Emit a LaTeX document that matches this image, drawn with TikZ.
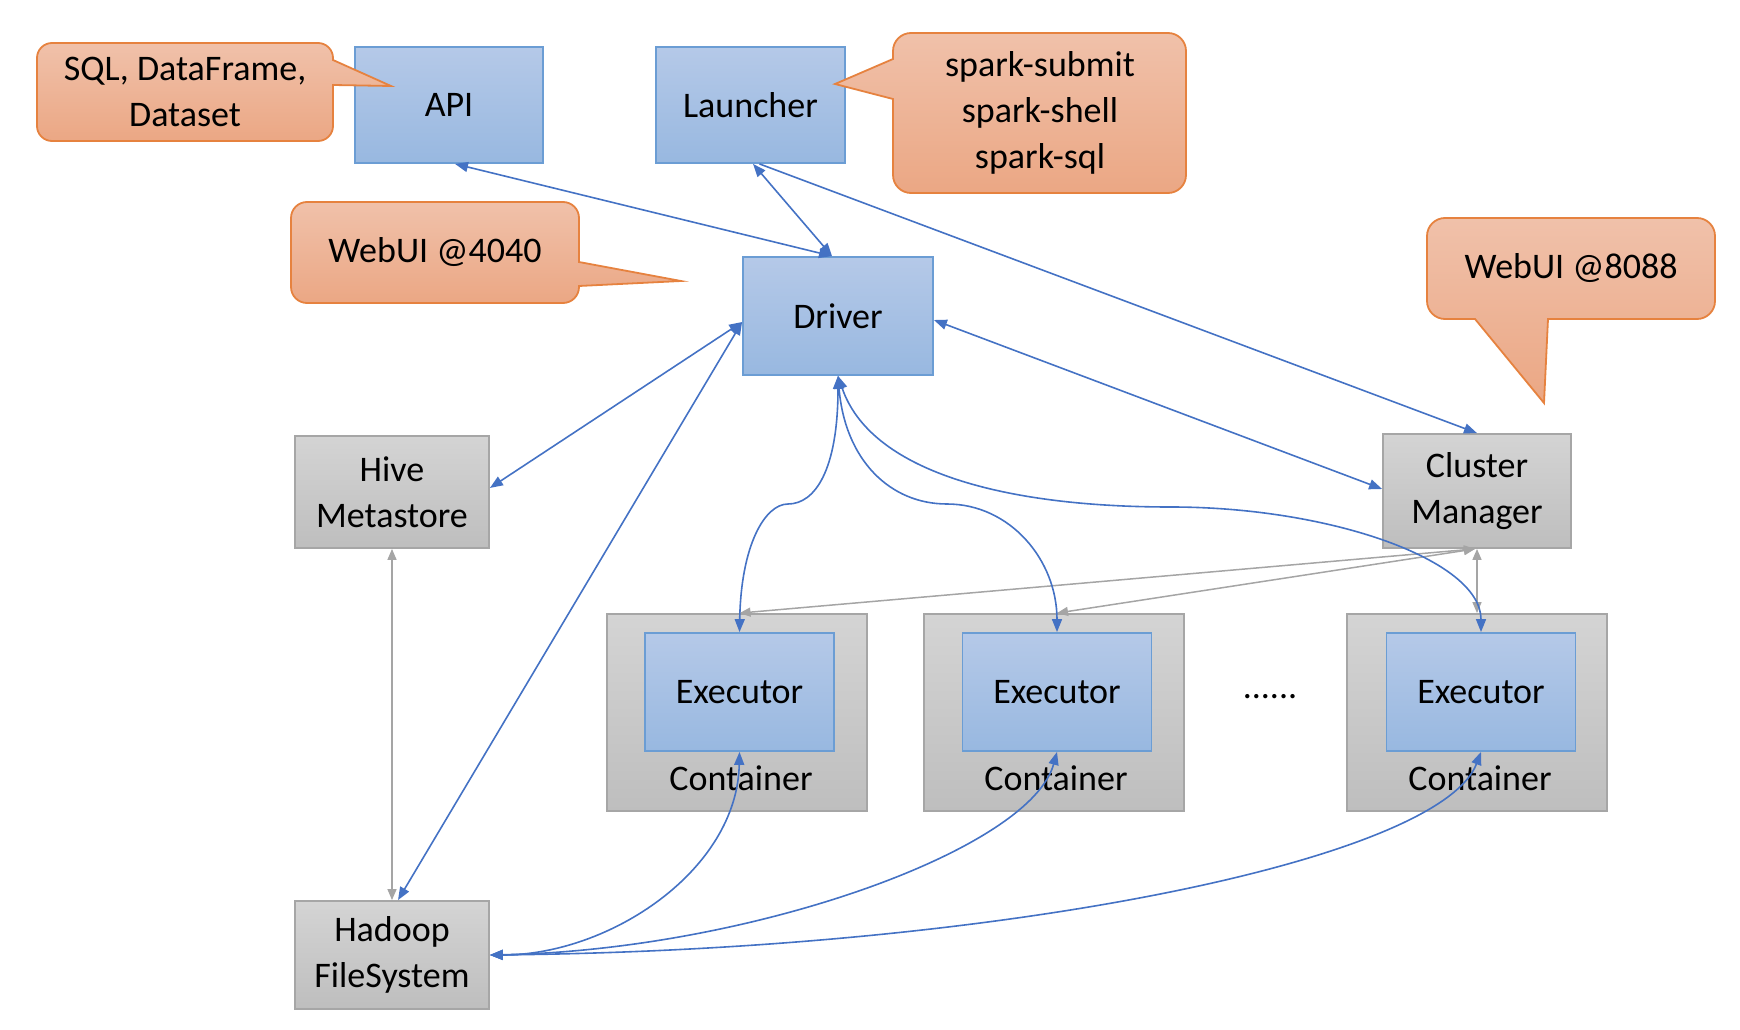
\documentclass[tikz,border=0pt]{standalone}
\usepackage{fontspec}
\setmainfont{Carlito}
\usetikzlibrary{arrows.meta,calc}
\definecolor{bluetop}{HTML}{B5C9E8}
\definecolor{bluebot}{HTML}{98B8E0}
\definecolor{blueline}{HTML}{6B9DD4}
\definecolor{graytop}{HTML}{D4D4D4}
\definecolor{graybot}{HTML}{BEBEBE}
\definecolor{grayline}{HTML}{A6A6A6}
\definecolor{caltop}{HTML}{F0C1AA}
\definecolor{calbot}{HTML}{EBA784}
\definecolor{calline}{HTML}{E6823F}
\definecolor{arrblue}{HTML}{4472C4}
\definecolor{arrgray}{HTML}{A5A5A5}
\tikzset{
  bluebox/.style={draw=blueline, line width=1.8pt, top color=bluetop, bottom color=bluebot, inner sep=0pt, align=center},
  graybox/.style={draw=grayline, line width=1.8pt, top color=graytop, bottom color=graybot, inner sep=0pt, align=center},
  callout/.style={draw=calline, line width=1.8pt, top color=caltop, bottom color=calbot},
  txt/.style={inner sep=0pt, align=center},
  bcon/.style={draw=arrblue, line width=1.6pt},
  gcon/.style={draw=arrgray, line width=1.5pt},
  bboth/.style={{Triangle[length=13pt,width=10pt]}-{Triangle[length=13pt,width=10pt]}},
  bhead/.style={-{Triangle[length=13pt,width=10pt]}},
  gboth/.style={{Triangle[length=11pt,width=9pt]}-{Triangle[length=11pt,width=9pt]}}
}
\begin{document}
\begin{tikzpicture}[x=1pt,y=-1pt,font=\fontsize{36}{46}\selectfont]
\useasboundingbox (0,0) rectangle (1740,1030);

% boxes
\node[bluebox, minimum width=188pt, minimum height=116pt] (api) at (449,105) {API};
\node[bluebox, minimum width=189pt, minimum height=116pt] (launcher) at (750.5,105) {Launcher};
\node[bluebox, minimum width=190pt, minimum height=118pt] (driver) at (838,316) {Driver};
\node[graybox, minimum width=194pt, minimum height=112pt] (hive) at (392,492) {Hive\\Metastore};
\node[graybox, minimum width=188pt, minimum height=114pt] (cm) at (1477,491) {Cluster\\Manager};
\node[graybox, minimum width=194pt, minimum height=108pt] (hdfs) at (392,955) {Hadoop\\FileSystem};

\node[graybox, minimum width=260pt, minimum height=197pt] (c1) at (737,712.5) {};
\node[graybox, minimum width=260pt, minimum height=197pt] (c2) at (1054,712.5) {};
\node[graybox, minimum width=260pt, minimum height=197pt] (c3) at (1477,712.5) {};
\node[bluebox, minimum width=189pt, minimum height=118pt] (e1) at (739.5,692) {Executor};
\node[bluebox, minimum width=189pt, minimum height=118pt] (e2) at (1057,692) {Executor};
\node[bluebox, minimum width=189pt, minimum height=118pt] (e3) at (1481,692) {Executor};
\node[txt] (l1) at (741,778) {Container};
\node[txt] (l2) at (1056,778) {Container};
\node[txt] (l3) at (1480,778) {Container};
\node[txt] (dots) at (1270,697) {......};

% callouts (drawn over the boxes)
\path[callout] (333,85) -- (333,126) arc[start angle=0,end angle=90,radius=15] -- (52,141) arc[start angle=90,end angle=180,radius=15] -- (37,58) arc[start angle=180,end angle=270,radius=15] -- (318,43) arc[start angle=270,end angle=360,radius=15] -- (333,60) -- (391,86) -- cycle;
\node[txt] (sqltxt) at (185,92) {SQL, DataFrame,\\Dataset};

\path[callout] (579,286) -- (579,287) arc[start angle=0,end angle=90,radius=16] -- (307,303) arc[start angle=90,end angle=180,radius=16] -- (291,218) arc[start angle=180,end angle=270,radius=16] -- (563,202) arc[start angle=270,end angle=360,radius=16] -- (579,262) -- (681,281) -- cycle;
\node[txt] (ui4040) at (435,252) {WebUI @4040};

\path[callout] (893,99) -- (893,175) arc[start angle=180,end angle=90,radius=18] -- (1168,193) arc[start angle=90,end angle=0,radius=18] -- (1186,51) arc[start angle=360,end angle=270,radius=18] -- (911,33) arc[start angle=270,end angle=180,radius=18] -- (893,59) -- (835,84) -- cycle;
\node[txt] (sparktxt) at (1040,113) {spark-submit\\spark-shell\\spark-sql};

\path[callout] (1548,319) -- (1697,319) arc[start angle=90,end angle=0,radius=18] -- (1715,236) arc[start angle=360,end angle=270,radius=18] -- (1445,218) arc[start angle=270,end angle=180,radius=18] -- (1427,301) arc[start angle=180,end angle=90,radius=18] -- (1475,319) -- (1544,403) -- cycle;
\node[txt] (ui8088) at (1571,268) {WebUI @8088};

% gray connectors
\draw[gcon, gboth] (hive.south) -- (hdfs.north);
\draw[gcon, gboth] ($(cm.south)+(-2,0)$) -- (c1.north -| e1.north);
\draw[gcon, gboth] ($(cm.south)+(-2,0)$) -- (c2.north -| e2.north);
\draw[gcon, gboth] (cm.south) -- (c3.north);

% blue connectors
\draw[bcon, bboth] ($(api.south)+(6,0)$) -- ($(driver.north)+(-6,0)$);
\draw[bcon, bboth] ($(launcher.south)+(2.5,0)$) -- ($(driver.north)+(-6,0)$);
\draw[bcon, bhead] ($(launcher.south)+(9,0)$) -- (cm.north);
\draw[bcon, bboth] ($(driver.east)+(0,4)$) -- ($(cm.west)+(0,-2)$);
\draw[bcon, bboth] ($(driver.west)+(0,6)$) -- ($(hive.east)+(0,-4)$);
\draw[bcon, bboth] ($(driver.west)+(0,6)$) -- ($(hdfs.north)+(6,0)$);

\draw[bcon, bboth] (driver.south) .. controls (838,470) and (815,504) .. (788,504) .. controls (765,504) and (741,545) .. (e1.north);
\draw[bcon, bboth] (driver.south) .. controls (845,460) and (890,504) .. (947,504) .. controls (1010,504) and (1057,560) .. (e2.north);
\draw[bcon, bboth] (driver.south) .. controls (870,470) and (1000,507) .. (1171,507) .. controls (1330,507) and (1481,560) .. (e3.north);

\draw[bcon, bboth] (hdfs.east) .. controls (610,955) and (737,870) .. (e1.south);
\draw[bcon, bboth] (hdfs.east) .. controls (750,950) and (1030,850) .. (e2.south);
\draw[bcon, bboth] (hdfs.east) .. controls (1000,950) and (1440,860) .. (e3.south);
\end{tikzpicture}
\end{document}
